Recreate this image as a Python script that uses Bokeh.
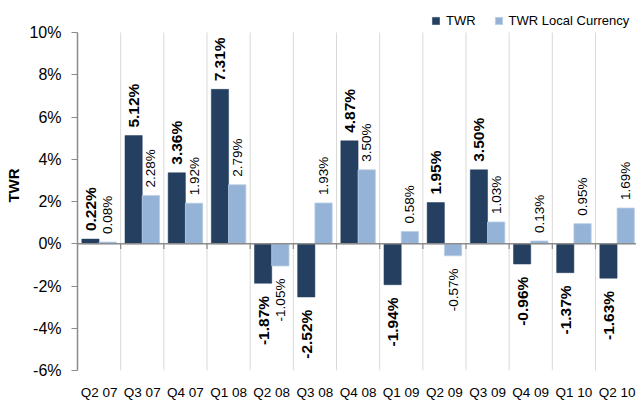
import numpy as np
from bokeh.plotting import figure
from bokeh.models import Range1d, FixedTicker, ColumnDataSource, Span, Legend, LegendItem
from bokeh.core.properties import value
from bokeh.embed import file_html
from bokeh.resources import INLINE

categories = ["Q2 07", "Q3 07", "Q4 07", "Q1 08", "Q2 08", "Q3 08", "Q4 08",
              "Q1 09", "Q2 09", "Q3 09", "Q4 09", "Q1 10", "Q2 10"]
twr = [0.22, 5.12, 3.36, 7.31, -1.87, -2.52, 4.87, -1.94, 1.95, 3.50, -0.96, -1.37, -1.63]
twr_local = [0.08, 2.28, 1.92, 2.79, -1.05, 1.93, 3.50, 0.58, -0.57, 1.03, 0.13, 0.95, 1.69]
y_ticks = [-6, -4, -2, 0, 2, 4, 6, 8, 10]

DARK = "#243F60"
LIGHT = "#95B3D7"
AXIS = "#8C8C8C"
GRID = "#D9D9D9"
FONT = "Liberation Sans"

n = len(categories)
idx = np.arange(n)

p = figure(width=636, height=402, output_backend="svg", toolbar_location=None,
           x_range=Range1d(0, 12.95), y_range=Range1d(-6, 11.515),
           min_border_left=77, min_border_right=0, min_border_top=0, min_border_bottom=32)
p.outline_line_color = None
p.xgrid.visible = False
p.ygrid.visible = False

# vertical grid lines at category boundaries
bounds = list(range(1, n + 1))
p.segment(x0=bounds, y0=y_ticks[0], x1=bounds, y1=y_ticks[-1], line_color=GRID, line_width=1)

dark_src = ColumnDataSource(dict(x=idx + 0.3, top=twr))
light_src = ColumnDataSource(dict(x=idx + 0.7, top=twr_local))
r_dark = p.vbar(x="x", top="top", bottom=0, width=0.4, source=dark_src,
                fill_color=DARK, line_color=DARK, line_width=0.5)
r_light = p.vbar(x="x", top="top", bottom=0, width=0.4, source=light_src,
                 fill_color=LIGHT, line_color="#B9CDE5", line_width=0.8)

# zero line and small ticks
p.add_layout(Span(location=0, dimension="width", line_color=AXIS, line_width=1.5))
tick_x = list(range(0, n + 1))
p.segment(x0=tick_x, y0=0, x1=tick_x, y1=-0.25, line_color=AXIS, line_width=1.2)

def add_labels(xs, vals, bold, size):
    pos = [(x, v + 0.38, f"{v:.2f}%") for x, v in zip(xs, vals) if v >= 0]
    neg = [(x, v - 0.6, f"{v:.2f}%") for x, v in zip(xs, vals) if v < 0]
    for rows, align in ((pos, "left"), (neg, "right")):
        if not rows:
            continue
        src = ColumnDataSource(dict(x=[r[0] for r in rows], y=[r[1] for r in rows],
                                    t=[r[2] for r in rows]))
        p.text(x="x", y="y", text="t", source=src, angle=np.pi / 2,
               text_align=align, text_baseline="middle",
               text_font=value(FONT), text_font_size=size,
               text_font_style="bold" if bold else "normal", text_color="#000000")

add_labels(list(idx + 0.3), twr, True, "15.5px")
add_labels(list(idx + 0.7), twr_local, False, "13.5px")

# y axis
yax = p.yaxis[0]
yax.ticker = FixedTicker(ticks=y_ticks)
yax.major_label_overrides = {t: f"{t}%" for t in y_ticks}
yax.bounds = (y_ticks[0], y_ticks[-1])
yax.axis_line_color = AXIS
yax.axis_line_width = 1.5
yax.major_tick_line_color = AXIS
yax.major_tick_in = 0
yax.major_tick_out = 6
yax.minor_tick_line_color = None
yax.major_label_standoff = 10
yax.major_label_text_font = FONT
yax.major_label_text_font_size = "16px"
yax.major_label_text_color = "#000000"
yax.axis_label = "TWR"
yax.axis_label_text_font = FONT
yax.axis_label_text_font_size = "15px"
yax.axis_label_text_font_style = "bold"
yax.axis_label_text_color = "#000000"
yax.axis_label_standoff = 4

# x axis
xax = p.xaxis[0]
centers = [float(i) + 0.5 for i in idx]
xax.ticker = FixedTicker(ticks=centers)
xax.major_label_overrides = {c: lab for c, lab in zip(centers, categories)}
xax.axis_line_color = None
xax.major_tick_line_color = None
xax.major_tick_in = 0
xax.major_tick_out = 0
xax.minor_tick_line_color = None
xax.minor_tick_in = 0
xax.minor_tick_out = 0
xax.major_label_standoff = 14
xax.major_label_text_line_height = 0.8
xax.major_label_text_font = FONT
xax.major_label_text_font_size = "13.5px"
xax.major_label_text_color = "#000000"

legend = Legend(items=[LegendItem(label="TWR", renderers=[r_dark]),
                       LegendItem(label="TWR Local Currency", renderers=[r_light])],
                location=(354, 342), orientation="horizontal",
                glyph_width=9, glyph_height=9, label_height=9, label_standoff=6,
                spacing=18, padding=0, margin=0,
                label_text_font=FONT, label_text_font_size="13px",
                label_text_color="#000000",
                border_line_color=None, background_fill_alpha=0)
p.add_layout(legend)

open("out.html", "w").write(file_html(p, INLINE))
